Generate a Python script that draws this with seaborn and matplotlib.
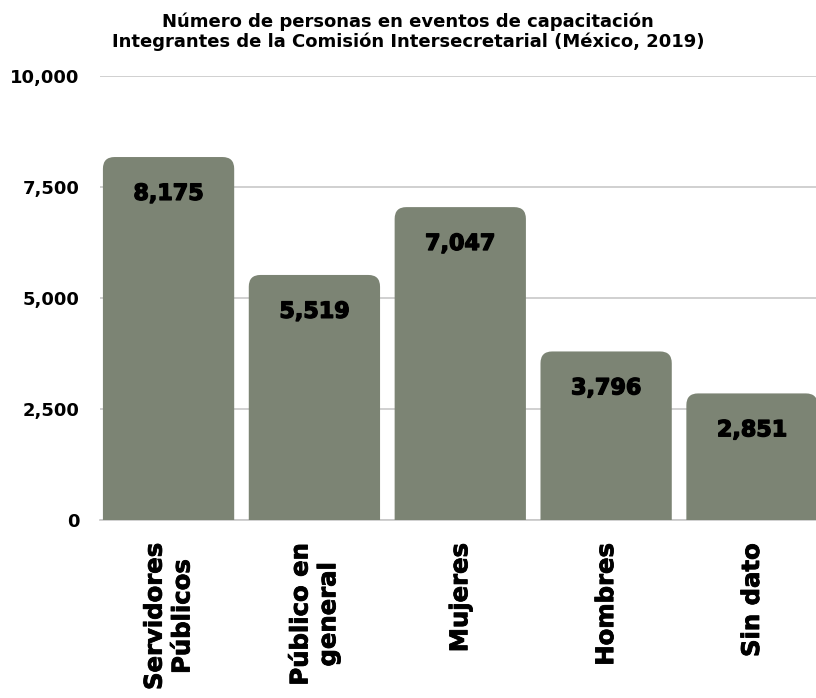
import numpy as np
import pandas as pd
import seaborn as sns
import matplotlib.pyplot as plt
import matplotlib.patheffects as pe
from matplotlib.patches import FancyBboxPatch

categorias = ["Servidores\nPúblicos", "Público en\ngeneral", "Mujeres", "Hombres", "Sin dato"]
personas = [8175, 5519, 7047, 3796, 2851]
yticks = [0, 2500, 5000, 7500, 10000]

df = pd.DataFrame({"categoria": categorias, "personas": personas})

sns.set_theme(style="white")
plt.rcParams["font.family"] = ["DejaVu Sans"]
plt.rcParams["text.color"] = "black"
plt.rcParams["xtick.color"] = "black"
plt.rcParams["ytick.color"] = "black"

fig = plt.figure(figsize=(8.16, 6.98), dpi=100)
ax = fig.add_axes([100 / 816, 1 - 520 / 698, 1 - 100 / 816 + 0.002, 444 / 698])

color = "#7c8474"
sns.barplot(data=df, x="categoria", y="personas", color=color, width=0.9,
            saturation=1, ax=ax, zorder=3)

# barras con esquinas superiores redondeadas
thick = [pe.withStroke(linewidth=1.0, foreground="black")]
for p in list(ax.patches):
    x, w, h = p.get_x(), p.get_width(), p.get_height()
    p.remove()
    box = FancyBboxPatch((x, -600), w, h + 600,
                         boxstyle="round,pad=0,rounding_size=0.08",
                         mutation_aspect=3300, facecolor=color,
                         edgecolor="none", zorder=3)
    ax.add_patch(box)
    ax.text(x + w / 2, h - 830, f"{h:,.0f}", ha="center", va="center",
            fontsize=16, fontweight="bold", color="black", zorder=4,
            path_effects=thick)

ax.set_ylim(0, 10000)
ax.set_xlim(-0.47, 4.45)
ax.set_yticks(yticks)
ax.set_yticklabels([f"{v:,}" for v in yticks], fontsize=13, fontweight="bold")
ax.yaxis.grid(True, color="#c8c8c8", linewidth=1.2, zorder=0)
ax.tick_params(axis="y", length=0, pad=15)
ax.tick_params(axis="x", length=0, pad=17)
for lbl in ax.get_xticklabels():
    lbl.set_rotation(90)
    lbl.set_fontsize(17.5)
    lbl.set_fontweight("bold")
    lbl.set_ha("center")
    lbl.set_va("top")
    lbl.set_multialignment("center")
    lbl.set_path_effects([pe.withStroke(linewidth=0.6, foreground="black")])
ax.set_xlabel("")
ax.set_ylabel("")
for s in ["left", "right", "top"]:
    ax.spines[s].set_visible(False)
ax.spines["bottom"].set_color("#c8c8c8")
ax.spines["bottom"].set_linewidth(1.2)

fig.text(0.5, 1 - 32 / 698,
         "Número de personas en eventos de capacitación\nIntegrantes de la Comisión Intersecretarial (México, 2019)",
         ha="center", va="center", fontsize=13, fontweight="bold", linespacing=1.1)

fig.savefig("out.png", dpi=100)
